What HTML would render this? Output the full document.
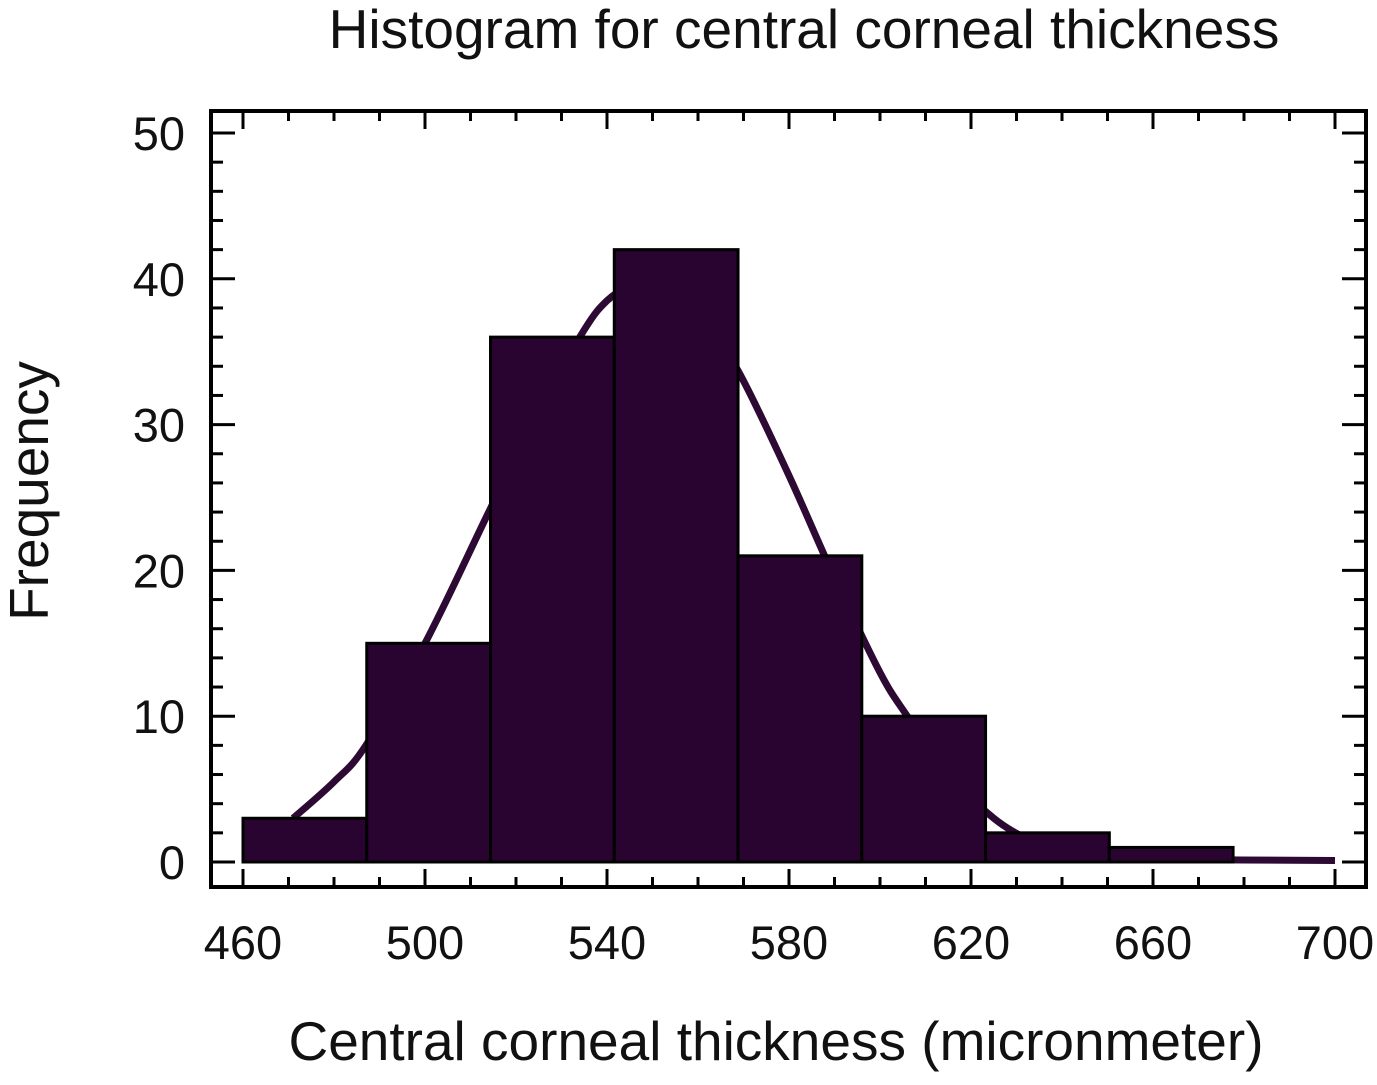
<!DOCTYPE html>
<html><head><meta charset="utf-8"><style>
body{margin:0;background:#fff;}
svg{display:block;font-family:"Liberation Sans",Arial,sans-serif;}
</style></head><body>
<svg id="chart" width="1377" height="1085">
<text x="804" y="48" font-size="55" text-anchor="middle" fill="#111">Histogram for central corneal thickness</text>
<text x="776" y="1060" font-size="55" text-anchor="middle" fill="#111">Central corneal thickness (micronmeter)</text>
<text transform="translate(48,491) rotate(-90)" font-size="55" text-anchor="middle" fill="#111">Frequency</text>
<g id="curve-layer"></g>
<g id="bars-layer"></g>
<g id="axes-layer"></g>
</svg>
<script>
const binStarts = [460, 487.2, 514.4, 541.6, 568.8, 596, 623.2, 650.4];
const binWidth = 27.2;
const counts = [3, 15, 36, 42, 21, 10, 2, 1];
const curveX = [471, 480, 487, 500, 514, 525, 535, 540, 545, 550, 555, 560, 565, 570, 580, 590, 600, 606, 615, 625, 633, 640, 650, 660, 700];
const curveY = [3, 5.5, 8, 15, 24, 31, 36.5, 38.5, 39.5, 39.8, 39.3, 37.5, 35.5, 33, 26.5, 19.5, 13, 10, 6, 3, 1.5, 0.8, 0.4, 0.2, 0.1];
const xTicks = [460, 500, 540, 580, 620, 660, 700];
const yTicks = [0, 10, 20, 30, 40, 50];

const NS = "http://www.w3.org/2000/svg";
const X0 = 243, X1 = 1335, XMIN = 460, XMAX = 700;
const Y0 = 862, Y50 = 133;
const L = 211, R = 1366, T = 111, B = 887;
const sx = v => X0 + (v - XMIN) * (X1 - X0) / (XMAX - XMIN);
const sy = v => Y0 - v * (Y0 - Y50) / 50;
function mk(tag, attrs, parent) {
  const e = document.createElementNS(NS, tag);
  for (const k in attrs) e.setAttribute(k, attrs[k]);
  parent.appendChild(e);
  return e;
}
const curveG = document.getElementById('curve-layer');
const barsG = document.getElementById('bars-layer');
const axesG = document.getElementById('axes-layer');

// smooth curve via Catmull-Rom
const pts = curveX.map((x, i) => [sx(x), sy(curveY[i])]);
let d = 'M' + pts[0][0] + ',' + pts[0][1];
for (let i = 0; i < pts.length - 1; i++) {
  const p0 = pts[Math.max(0, i - 1)], p1 = pts[i], p2 = pts[i + 1], p3 = pts[Math.min(pts.length - 1, i + 2)];
  const c1 = [p1[0] + (p2[0] - p0[0]) / 6, p1[1] + (p2[1] - p0[1]) / 6];
  const c2 = [p2[0] - (p3[0] - p1[0]) / 6, p2[1] - (p3[1] - p1[1]) / 6];
  d += ' C' + c1.join(',') + ' ' + c2.join(',') + ' ' + p2.join(',');
}
const curve = mk('path', {d: d, fill: 'none', stroke: '#2d0a33', 'stroke-width': 7, 'stroke-linejoin': 'round'}, curveG);



counts.forEach((c, i) => {
  const x1 = sx(binStarts[i]), x2 = sx(binStarts[i] + binWidth);
  const r = mk('rect', {x: x1, y: sy(c), width: x2 - x1, height: sy(0) - sy(c), fill: '#2a0430', stroke: '#000', 'stroke-width': 3}, barsG);
  
  
});

const frame = mk('rect', {x: L, y: T, width: R - L, height: B - T, fill: 'none', stroke: '#000', 'stroke-width': 4}, axesG);



for (let v = 0; v <= 50; v += 2) {
  const major = v % 10 === 0;
  const len = major ? 24 : 12;
  const y = sy(v);
  mk('line', {x1: L, x2: L + len, y1: y, y2: y, stroke: '#000', 'stroke-width': 3}, axesG);
  mk('line', {x1: R, x2: R - len, y1: y, y2: y, stroke: '#000', 'stroke-width': 3}, axesG);
}
for (let v = 460; v <= 700; v += 10) {
  const major = (v - 460) % 40 === 0;
  const len = major ? 18 : 10;
  const x = sx(v);
  mk('line', {x1: x, x2: x, y1: B, y2: B - len, stroke: '#000', 'stroke-width': 3}, axesG);
  mk('line', {x1: x, x2: x, y1: T, y2: T + len, stroke: '#000', 'stroke-width': 3}, axesG);
}
yTicks.forEach(v => {
  const t = mk('text', {x: 185, y: sy(v) + 17, 'font-size': 47, 'text-anchor': 'end', fill: '#111'}, axesG);
  t.textContent = v;
  
  
});
xTicks.forEach(v => {
  const t = mk('text', {x: sx(v), y: 959, 'font-size': 47, 'text-anchor': 'middle', fill: '#111'}, axesG);
  t.textContent = v;
  
  
});
</script>
</body></html>
